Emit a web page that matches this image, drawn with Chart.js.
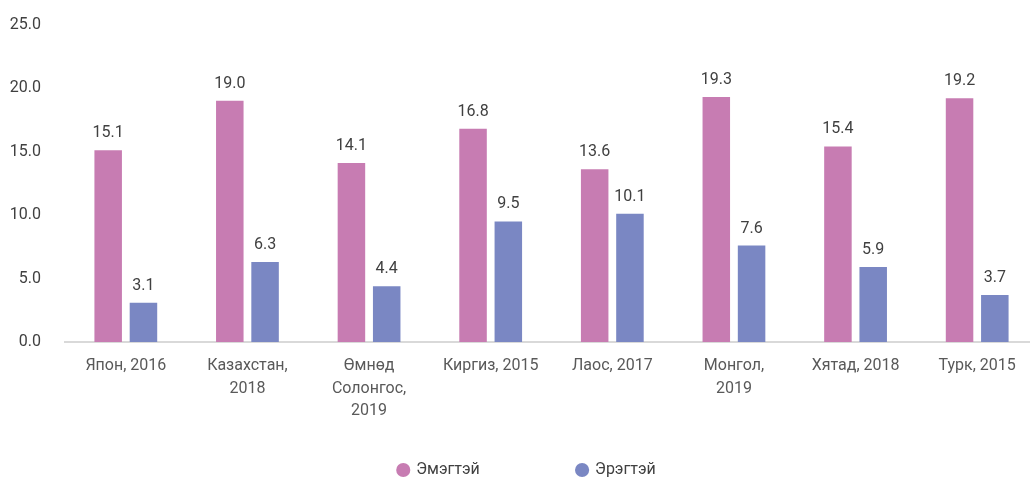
<!DOCTYPE html>
<html>
<head>
<meta charset="utf-8">
<script src="https://cdn.jsdelivr.net/npm/chart.js@4.4.1/dist/chart.umd.min.js"></script>
<style>
  html, body { margin: 0; padding: 0; background: #fff; overflow: hidden; }
  #wrap { width: 1054px; height: 497px; margin-top: -9px; }
</style>
</head>
<body>
<div id="wrap"><canvas id="chart"></canvas></div>
<script>
// ангилал
const categories = [
  ["Япон, 2016"],
  ["Казахстан,", "2018"],
  ["Өмнөд", "Солонгос,", "2019"],
  ["Киргиз, 2015"],
  ["Лаос, 2017"],
  ["Монгол,", "2019"],
  ["Хятад, 2018"],
  ["Турк, 2015"]
];
const seriesNames = ["Эмэгтэй", "Эрэгтэй"];
const female = [15.1, 19.0, 14.1, 16.8, 13.6, 19.3, 15.4, 19.2];
const male = [3.1, 6.3, 4.4, 9.5, 10.1, 7.6, 5.9, 3.7];
const yTicks = [0, 5, 10, 15, 20, 25];

const FONT = "'Liberation Sans Narrow', 'Roboto', sans-serif";

// утга бичих plugin
const valueLabels = {
  id: 'valueLabels',
  afterDatasetsDraw(chart) {
    const ctx = chart.ctx;
    ctx.save();
    ctx.font = "16px " + FONT;
    ctx.fillStyle = "#404040";
    ctx.textAlign = "center";
    ctx.textBaseline = "alphabetic";
    chart.data.datasets.forEach((ds, i) => {
      const meta = chart.getDatasetMeta(i);
      meta.data.forEach((bar, j) => {
        ctx.fillText(ds.data[j].toFixed(1), bar.x, bar.y - 13);
      });
    });
    ctx.restore();
  }
};

Chart.defaults.font.family = FONT;
Chart.defaults.font.size = 16;

new Chart(document.getElementById('chart').getContext('2d'), {
  type: 'bar',
  data: {
    labels: categories,
    datasets: [{
      label: seriesNames[0],
      data: female,
      backgroundColor: '#C77CB2',
      categoryPercentage: 0.58,
      barPercentage: 0.78
    }, {
      label: seriesNames[1],
      data: male,
      backgroundColor: '#7A87C3',
      categoryPercentage: 0.58,
      barPercentage: 0.78
    }]
  },
  options: {
    responsive: true,
    maintainAspectRatio: false,
    animation: false,
    layout: { padding: 0 },
    plugins: {
      tooltip: { enabled: false },
      legend: {
        position: 'bottom',
        labels: {
          usePointStyle: true,
          pointStyle: 'circle',
          boxWidth: 10,
          boxHeight: 10,
          color: '#404040',
          font: { size: 16 },
          generateLabels(chart) {
            const items = Chart.defaults.plugins.legend.labels.generateLabels(chart);
            items[0].text = items[0].text + " ".repeat(22);
            return items;
          }
        }
      }
    },
    scales: {
      x: {
        grid: { display: false, drawTicks: false },
        border: { color: '#D9D9D9', width: 2 },
        ticks: {
          color: '#595959',
          padding: 13,
          maxRotation: 0,
          autoSkip: false,
          font: { size: 16, lineHeight: 1.4 }
        },
        afterFit(scale) { scale.height = 110; }
      },
      y: {
        min: 0,
        max: 25,
        afterBuildTicks(scale) { scale.ticks = yTicks.map(v => ({ value: v })); },
        grid: { display: false, drawTicks: false },
        border: { display: false },
        ticks: {
          color: '#404040',
          padding: 24,
          font: { size: 16 },
          callback: v => v.toFixed(1)
        },
        afterFit(scale) { scale.width = 65; }
      },
      // хоосон баруун тэнхлэг (зай авах)
      yRight: {
        type: 'linear',
        position: 'right',
        grid: { display: false, drawTicks: false },
        border: { display: false },
        ticks: { display: false },
        afterFit(scale) { scale.width = 16; }
      }
    }
  },
  plugins: [valueLabels]
});
</script>
</body>
</html>
